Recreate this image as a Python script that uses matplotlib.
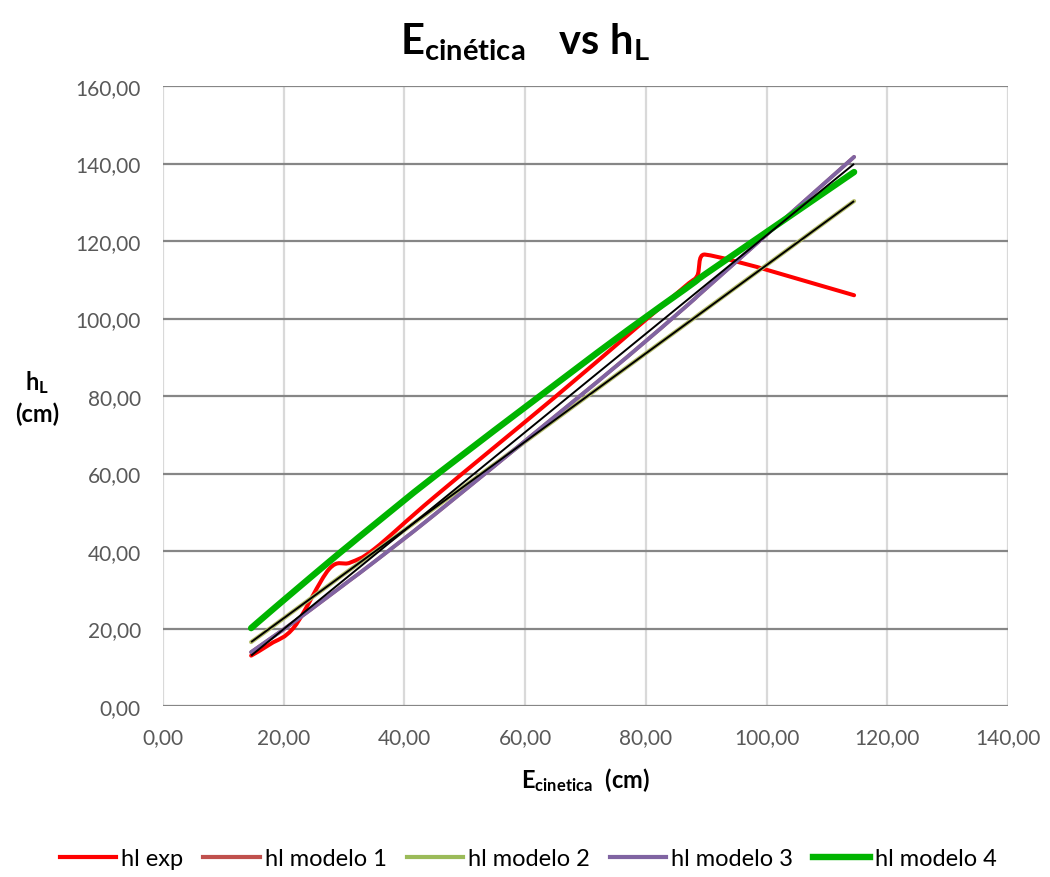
import matplotlib
matplotlib.use('Agg')
import matplotlib.pyplot as plt
from matplotlib.path import Path
from matplotlib.patches import PathPatch
from matplotlib.lines import Line2D
import numpy as np

# ---- data ----
e_cinetica = [14.6, 17.8, 21.8, 27.5, 31.0, 35.0, 45.0, 65.0, 77.0, 86.5, 88.5, 89.8, 114.5]
hl_exp     = [13.0, 16.0, 20.5, 35.3, 37.0, 40.5, 54.0, 79.8, 95.7, 108.3, 111.0, 116.5, 106.0]
hl_modelo1 = [13.9, 17.4, 21.8, 28.4, 32.5, 37.2, 49.4, 74.8, 90.2, 102.9, 105.7, 107.5, 141.7]
hl_modelo2 = [16.5, 20.1, 24.7, 31.2, 35.2, 39.7, 51.1, 73.9, 87.6, 98.4, 100.7, 102.2, 130.3]
hl_modelo3 = [13.9, 17.4, 21.8, 28.4, 32.5, 37.2, 49.4, 74.8, 90.2, 102.9, 105.7, 107.5, 141.7]
hl_modelo4 = [20.1, 24.4, 29.7, 37.2, 41.7, 46.8, 59.3, 83.0, 97.0, 107.6, 109.9, 111.4, 137.8]
trend_x  = [14.6, 114.5]
trend_m1 = [13.0, 139.9]
trend_m2 = [16.5, 130.3]

series_names = ['hl exp', 'hl modelo 1', 'hl modelo 2', 'hl modelo 3', 'hl modelo 4']
x_ticks = [0, 20, 40, 60, 80, 100, 120, 140]
y_ticks = [0, 20, 40, 60, 80, 100, 120, 140, 160]

plt.rcParams['font.family'] = ['Lato', 'DejaVu Sans']
plt.rcParams['mathtext.fontset'] = 'custom'
plt.rcParams['mathtext.rm'] = 'Lato'
plt.rcParams['mathtext.bf'] = 'Lato:bold'
plt.rcParams['mathtext.it'] = 'Lato:italic'


def smooth_path(xs, ys):
    """Cubic Bezier smoothing (Excel-like); tangent handles shortened to stay inside each x-segment."""
    pts = np.column_stack([xs, ys]).astype(float)
    n = len(pts)
    verts = [pts[0]]
    codes = [Path.MOVETO]
    for i in range(n - 1):
        p0 = pts[i - 1] if i > 0 else pts[i]
        p1 = pts[i]
        p2 = pts[i + 1]
        p3 = pts[i + 2] if i + 2 < n else pts[i + 1]
        w = p2[0] - p1[0]
        d1 = (p2 - p0) / 6.0
        d2 = (p3 - p1) / 6.0
        if abs(d1[0]) > w and d1[0] != 0:
            d1 = d1 * (w / abs(d1[0]))
        if abs(d2[0]) > w and d2[0] != 0:
            d2 = d2 * (w / abs(d2[0]))
        verts += [p1 + d1, p2 - d2, p2]
        codes += [Path.CURVE4] * 3
    return Path(verts, codes)


fig = plt.figure(figsize=(10.5, 8.78), dpi=100)
ax = fig.add_axes([163/1050, 1-707/878, (1008-163)/1050, (707-87)/878])

ax.set_xlim(0, 140)
ax.set_ylim(0, 160)

def add_smooth(xs, ys, color, lw, z):
    p = PathPatch(smooth_path(xs, ys), facecolor='none', edgecolor=color,
                  lw=lw, capstyle='round', joinstyle='round', zorder=z)
    ax.add_patch(p)

add_smooth(e_cinetica, hl_exp, '#FF0000', 2.9, 3)
add_smooth(e_cinetica, hl_modelo1, '#C0504D', 2.6, 4)
add_smooth(e_cinetica, hl_modelo2, '#B5BD6B', 3.0, 5)
add_smooth(e_cinetica, hl_modelo3, '#8064A2', 2.8, 6)
add_smooth(e_cinetica, hl_modelo4, '#00B400', 4.6, 7)
ax.plot(trend_x, trend_m1, color='black', lw=1.4, zorder=8, solid_capstyle='butt')
ax.plot(trend_x, trend_m2, color='black', lw=1.4, zorder=8, solid_capstyle='butt')

ax.set_xticks(x_ticks)
ax.set_yticks(y_ticks)
ax.set_xticklabels([f"{v:.2f}".replace('.', ',') for v in x_ticks])
ax.set_yticklabels([f"{v:.2f}".replace('.', ',') for v in y_ticks])
ax.tick_params(axis='both', length=0, labelsize=15, labelcolor='#595959')
ax.tick_params(axis='y', pad=16)
ax.tick_params(axis='x', pad=15)

ax.grid(False)
for v in x_ticks:
    ax.axvline(v, color='#D9D9D9', lw=1.6, zorder=1)
for v in y_ticks:
    ax.axhline(v, color='#868686', lw=1.6, zorder=1)
for s in ax.spines.values():
    s.set_visible(False)

fig.text(0.5, 1-42/878, r'$\mathbf{E}_{\mathbf{cinética}}\ \ \ \mathbf{vs\ h}_{\mathbf{L}}$',
         ha='center', va='center', fontsize=30)
fig.text(586/1050, 1-780/878, r'$\mathbf{E}_{\mathbf{cinetica}}\ \ \mathbf{(cm)}$',
         ha='center', va='center', fontsize=17)
fig.text(37/1050, 1-383/878, r'$\mathbf{h}_{\mathbf{L}}$', ha='center', va='center', fontsize=17)
fig.text(37/1050, 1-414/878, '(cm)', ha='center', va='center', fontsize=17, fontweight='bold')

handles = [
    Line2D([], [], color='#FF0000', lw=3),
    Line2D([], [], color='#C0504D', lw=3),
    Line2D([], [], color='#9BBB59', lw=3),
    Line2D([], [], color='#8064A2', lw=3),
    Line2D([], [], color='#00B400', lw=4.6),
]
fig.legend(handles, series_names, loc='center', bbox_to_anchor=(528/1050, 1-860/878),
           ncol=5, frameon=False, fontsize=17, handlelength=2.4, handletextpad=0.2,
           columnspacing=0.85)

fig.savefig('out.png', dpi=100)
